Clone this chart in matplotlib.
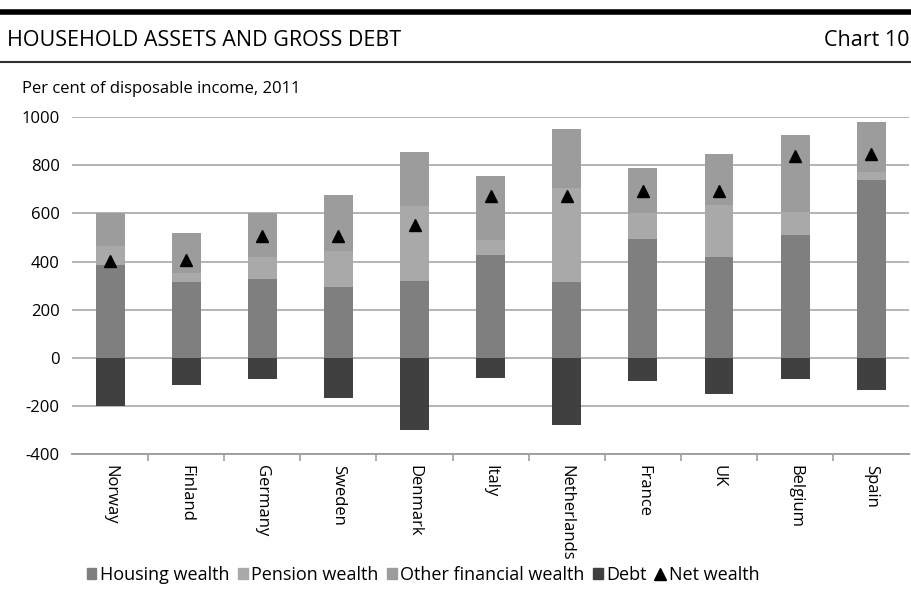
import matplotlib.pyplot as plt
from matplotlib.lines import Line2D
from matplotlib.patches import Patch

plt.rcParams["font.family"] = ["Open Sans", "DejaVu Sans"]

countries = ["Norway", "Finland", "Germany", "Sweden", "Denmark", "Italy",
             "Netherlands", "France", "UK", "Belgium", "Spain"]
housing = [385, 317, 328, 294, 318, 429, 317, 493, 421, 510, 739]
pension = [80, 34, 91, 149, 311, 59, 387, 107, 215, 98, 35]
other = [135, 167, 181, 233, 225, 268, 247, 188, 211, 320, 208]
debt = [-199, -111, -87, -167, -301, -83, -278, -97, -150, -88, -132]
net_wealth = [402, 405, 507, 507, 551, 671, 671, 692, 695, 837, 847]

yticks = [-400, -200, 0, 200, 400, 600, 800, 1000]

COL_HOUSING = "#7f7f7f"
COL_PENSION = "#a9a9a9"
COL_OTHER = "#9c9c9c"
COL_DEBT = "#404040"


def main():
    fig = plt.figure(figsize=(9.12, 5.92), dpi=100)
    ax = fig.add_axes([0.079, 0.233, 0.918, 0.569])

    x = list(range(len(countries)))
    width = 0.38
    base2 = housing
    base3 = [h + p for h, p in zip(housing, pension)]

    ax.bar(x, housing, width, color=COL_HOUSING, zorder=2)
    ax.bar(x, pension, width, bottom=base2, color=COL_PENSION, zorder=2)
    ax.bar(x, other, width, bottom=base3, color=COL_OTHER, zorder=2)
    ax.bar(x, debt, width, color=COL_DEBT, zorder=2)
    ax.plot(x, net_wealth, linestyle="none", marker="^", color="black",
            markersize=9, zorder=3)

    ax.set_xlim(-0.5, len(countries) - 0.5)
    ax.set_ylim(-400, 1000)
    ax.set_yticks(yticks)
    ax.set_yticklabels([str(v) for v in yticks], fontsize=12)
    ax.yaxis.grid(True, color="#b4b4b4", linewidth=1.4, zorder=0)
    ax.tick_params(axis="y", length=0, pad=9)

    ax.set_xticks([i + 0.5 for i in x[:-1]], minor=False)
    ax.set_xticklabels([])
    ax.set_xticks(x, minor=True)
    ax.set_xticklabels(countries, minor=True, rotation=270, fontsize=12,
                       va="top", ha="center")
    ax.tick_params(axis="x", which="major", length=5, color="#a0a0a0",
                   width=1.2, direction="out")
    ax.tick_params(axis="x", which="minor", length=0, pad=8)

    for side in ["top", "right", "left"]:
        ax.spines[side].set_visible(False)
    ax.spines["bottom"].set_color("#a0a0a0")
    ax.spines["bottom"].set_linewidth(1.4)

    # header lines and titles
    fig.add_artist(Line2D([0.0, 1.0], [0.979, 0.979], color="black",
                          linewidth=4, transform=fig.transFigure))
    fig.add_artist(Line2D([0.0, 1.0], [0.896, 0.896], color="#303030",
                          linewidth=1.5, transform=fig.transFigure))
    fig.text(0.008, 0.932, "HOUSEHOLD ASSETS AND GROSS DEBT", fontsize=15.5,
             va="center", ha="left")
    fig.text(0.997, 0.932, "Chart 10", fontsize=15.5, va="center", ha="right")
    fig.text(0.024, 0.849, "Per cent of disposable income, 2011",
             fontsize=12, va="center", ha="left")

    handles = [
        Patch(color=COL_HOUSING, label="Housing wealth"),
        Patch(color=COL_PENSION, label="Pension wealth"),
        Patch(color=COL_OTHER, label="Other financial wealth"),
        Patch(color=COL_DEBT, label="Debt"),
        Line2D([], [], linestyle="none", marker="^", color="black",
               markersize=9, label="Net wealth"),
    ]
    fig.legend(handles=handles, loc="center left", bbox_to_anchor=(0.085, 0.029),
               ncol=5, frameon=False, fontsize=13, handlelength=0.55,
               handleheight=0.55, handletextpad=0.2, columnspacing=0.45,
               borderpad=0)

    fig.savefig("out.png", dpi=100)


if __name__ == "__main__":
    main()
